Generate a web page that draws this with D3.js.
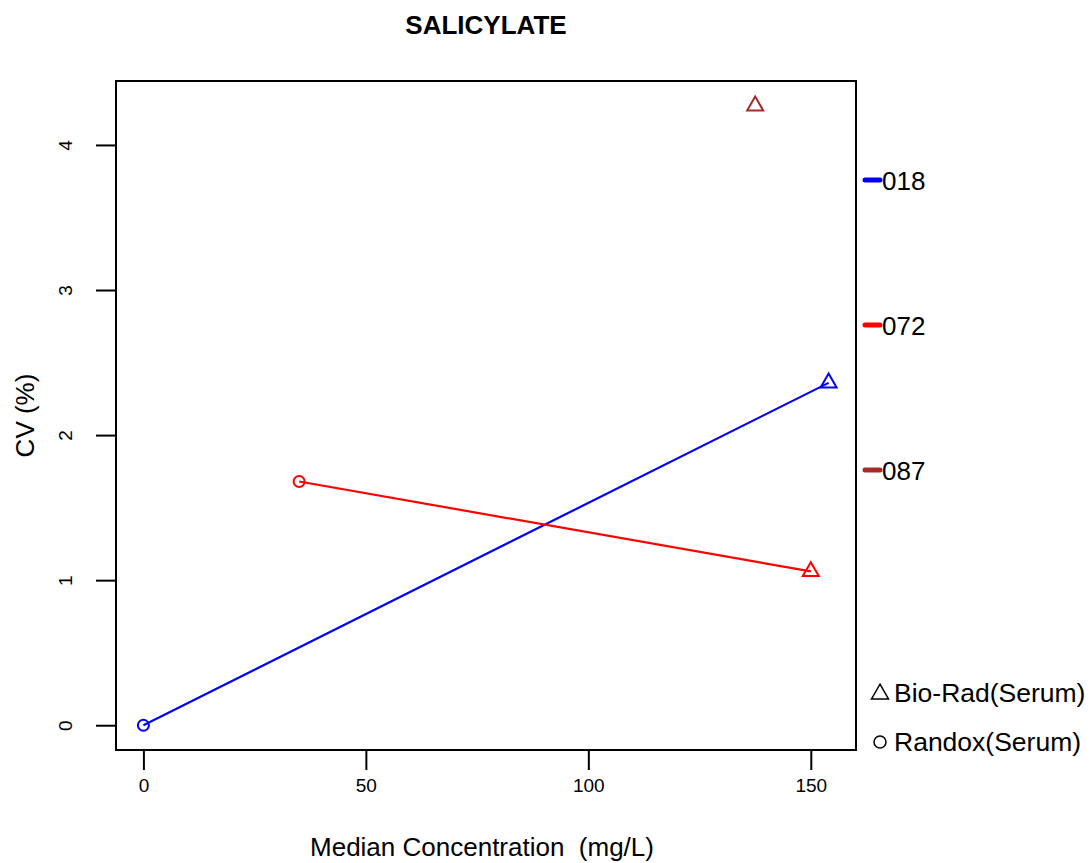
<!DOCTYPE html>
<html><head><meta charset="utf-8">
<script src="https://cdn.jsdelivr.net/npm/d3@7/dist/d3.min.js"></script>
<style>body{margin:0;background:#fff}svg{display:block}text{font-family:"Liberation Sans",Arial,sans-serif;white-space:pre}</style>
</head><body><svg id="c" width="1092" height="863"></svg>
<script>
const labs = ["018", "072", "087"];
const labColors = ["#0000FF", "#FF0000", "#A52A2A"];
const bioRadX = [154, 150, 137.5];
const bioRadY = [2.36, 1.06, 4.27];
const randoxX = [0, 35, null];
const randoxY = [0, 1.68, null];
const xTicks = [0, 50, 100, 150];
const yTicks = [0, 1, 2, 3, 4];
const materials = ["Bio-Rad(Serum)", "Randox(Serum)"];

const svg = d3.select("#c");
const L = 116, R = 856, T = 81, B = 750;
const allX = bioRadX.concat(randoxX).filter(v => v != null);
const allY = bioRadY.concat(randoxY).filter(v => v != null);
function ext(a){const lo=d3.min(a),hi=d3.max(a),d=(hi-lo)*0.04;return [lo-d,hi+d];}
const x = d3.scaleLinear().domain(ext(allX)).range([L, R]);
const y = d3.scaleLinear().domain(ext(allY)).range([B, T]);

// title
svg.append("text").attr("x", (L+R)/2).attr("y", 34).attr("text-anchor","middle")
  .attr("font-size", 26).attr("font-weight","bold").text("SALICYLATE");

// axes
const xa = svg.append("g").attr("transform", `translate(0,${B})`)
  .call(d3.axisBottom(x).tickValues(xTicks).tickSize(20).tickFormat(d3.format("d")));
xa.attr("font-size", 19);
xa.select(".domain").remove();
xa.selectAll("line").attr("stroke","#000").attr("stroke-width",2);
xa.selectAll("text").style("font-size","19px").attr("fill","#000").attr("y",42).attr("dy",null);

const ya = svg.append("g").attr("transform", `translate(${L},0)`)
  .call(d3.axisLeft(y).tickValues(yTicks).tickSize(20).tickFormat(d3.format("d")));
ya.attr("font-size", 19);
ya.select(".domain").remove();
ya.selectAll("line").attr("stroke","#000").attr("stroke-width",2);
ya.selectAll(".tick text").style("font-size","19px").attr("fill","#000")
  .attr("x",0).attr("y",0).attr("dy",null).attr("text-anchor","middle")
  .attr("transform", `translate(${72-L},0) rotate(-90)`);

svg.append("rect").attr("x",L).attr("y",T).attr("width",R-L).attr("height",B-T)
  .attr("fill","none").attr("stroke","#000").attr("stroke-width",2);

svg.append("text").attr("x",482).attr("y",856).attr("text-anchor","middle")
  .attr("font-size",26).text("Median Concentration\u00a0\u00a0(mg/L)");
svg.append("text").attr("transform",`translate(34,${(T+B)/2}) rotate(-90)`).attr("text-anchor","middle")
  .attr("font-size",26).text("CV (%)");

// lines & markers
const triPath = s => { const h = s*Math.sqrt(3)/2; return `M0,${-h*2/3}L${s/2},${h/3}L${-s/2},${h/3}Z`; };
labs.forEach((lab,i) => {
  const c = labColors[i];
  if (randoxX[i] != null) {
    svg.append("line").attr("x1",x(randoxX[i])).attr("y1",y(randoxY[i]))
      .attr("x2",x(bioRadX[i])).attr("y2",y(bioRadY[i])).attr("stroke",c).attr("stroke-width",2.2);
    svg.append("circle").attr("cx",x(randoxX[i])).attr("cy",y(randoxY[i])).attr("r",5.5)
      .attr("fill","none").attr("stroke",c).attr("stroke-width",2);
  }
  svg.append("path").attr("d",triPath(16)).attr("transform",`translate(${x(bioRadX[i])},${y(bioRadY[i])})`)
    .attr("fill","none").attr("stroke",c).attr("stroke-width",2);
});

// right legend (labs)
const legY = [180, 325, 470];
labs.forEach((lab,i) => {
  svg.append("line").attr("x1",865).attr("x2",880).attr("y1",legY[i]).attr("y2",legY[i])
    .attr("stroke",labColors[i]).attr("stroke-width",5).attr("stroke-linecap","round");
  svg.append("text").attr("x",882).attr("y",legY[i]+10).attr("font-size",26).text(lab);
});

// material legend
const matY = [693, 742];
svg.append("path").attr("d",triPath(17)).attr("transform",`translate(880,${matY[0]+1})`)
  .attr("fill","none").attr("stroke","#000").attr("stroke-width",1.5);
svg.append("circle").attr("cx",880).attr("cy",matY[1]).attr("r",6)
  .attr("fill","none").attr("stroke","#000").attr("stroke-width",1.5);
materials.forEach((m,i) => {
  svg.append("text").attr("x",894).attr("y",matY[i]+9).attr("font-size",26.5).text(m);
});
</script></body></html>
